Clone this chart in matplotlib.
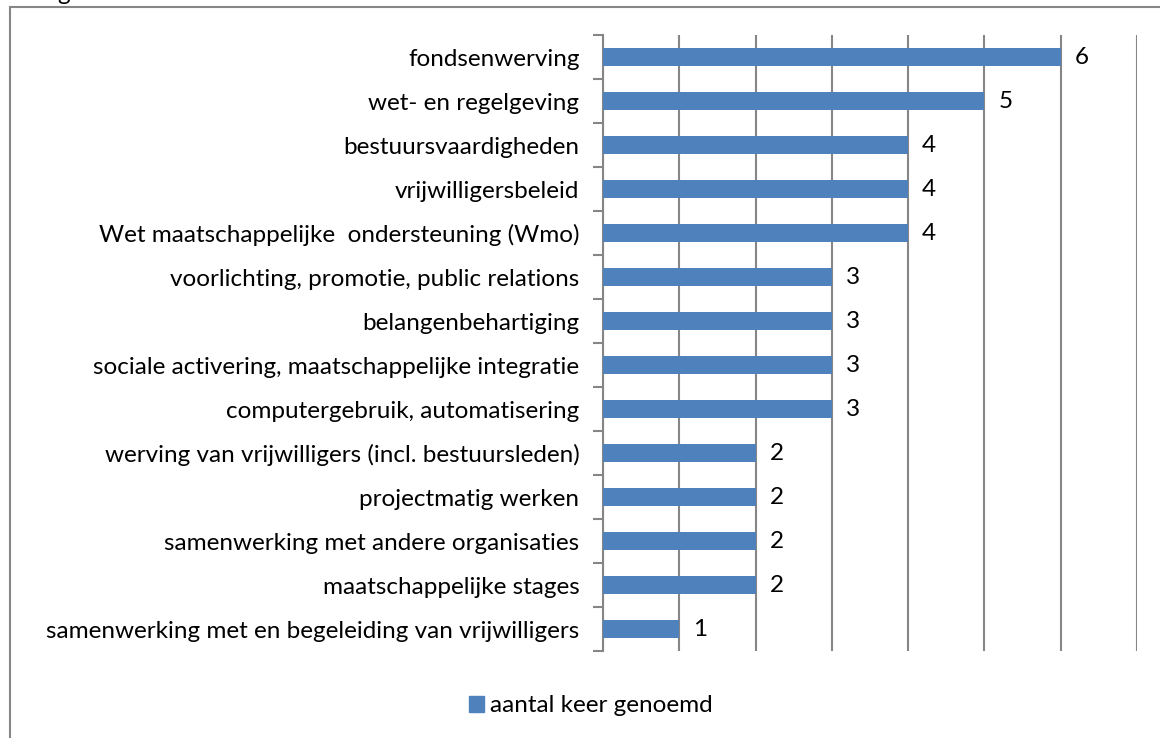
import matplotlib.pyplot as plt
from matplotlib.patches import Rectangle

# gegevens (van boven naar beneden)
categorieen = [
    "fondsenwerving",
    "wet- en regelgeving",
    "bestuursvaardigheden",
    "vrijwilligersbeleid",
    "Wet maatschappelijke  ondersteuning (Wmo)",
    "voorlichting, promotie, public relations",
    "belangenbehartiging",
    "sociale activering, maatschappelijke integratie",
    "computergebruik, automatisering",
    "werving van vrijwilligers (incl. bestuursleden)",
    "projectmatig werken",
    "samenwerking met andere organisaties",
    "maatschappelijke stages",
    "samenwerking met en begeleiding van vrijwilligers",
]
aantallen = [6, 5, 4, 4, 4, 3, 3, 3, 3, 2, 2, 2, 2, 1]
reeks_naam = "aantal keer genoemd"

plt.rcParams['font.family'] = ['Lato', 'DejaVu Sans']
BLAUW = '#4F81BD'
GRIJS = '#868686'
FS = 17.5

fig = plt.figure(figsize=(11.6, 7.38), dpi=100)

# kader rond de grafiek (rechts en onder buiten beeld)
fig.patches.append(Rectangle((10 / 1160, -0.1), 1.2, 1 - 7 / 738 + 0.1,
                             transform=fig.transFigure, fill=False,
                             edgecolor=GRIJS, linewidth=1.5))
# afgesneden titel bovenaan
fig.text(57 / 1160, 1.0, "g", fontsize=FS, va='baseline', ha='left')

ax = fig.add_axes([603 / 1160, 1 - 651 / 738, (1137 - 603) / 1160, (651 - 35) / 738])

n = len(categorieen)
posities = list(range(n))
ax.barh(posities, aantallen, height=0.4, color=BLAUW, zorder=3)

for p, v in zip(posities, aantallen):
    ax.annotate(str(v), (v, p), xytext=(10, 0), textcoords='offset points',
                va='center', ha='left', fontsize=FS)

ax.set_xlim(0, 7)
ax.set_ylim(n - 0.5, -0.5)
ax.set_xticks(range(8))
ax.set_xticklabels([])
ax.tick_params(axis='x', length=0)
ax.xaxis.grid(True, color=GRIJS, linewidth=1.5, zorder=0)

ax.set_yticks(posities)
ax.set_yticklabels(categorieen, fontsize=FS)
ax.tick_params(axis='y', which='major', length=0, pad=17)
ax.set_yticks([i - 0.5 for i in range(n + 1)], minor=True)
ax.tick_params(axis='y', which='minor', length=7, width=1.5, color=GRIJS)

for s in ['top', 'right', 'bottom']:
    ax.spines[s].set_visible(False)
ax.spines['left'].set_color(GRIJS)
ax.spines['left'].set_linewidth(1.5)

handle = Rectangle((0, 0), 1, 1, color=BLAUW)
fig.legend([handle], [reeks_naam], loc='center', bbox_to_anchor=(591 / 1160, 1 - 706 / 738),
           frameon=False, fontsize=FS, handlelength=0.6, handleheight=0.6,
           handletextpad=0.25)

fig.savefig('out.png', dpi=100)
